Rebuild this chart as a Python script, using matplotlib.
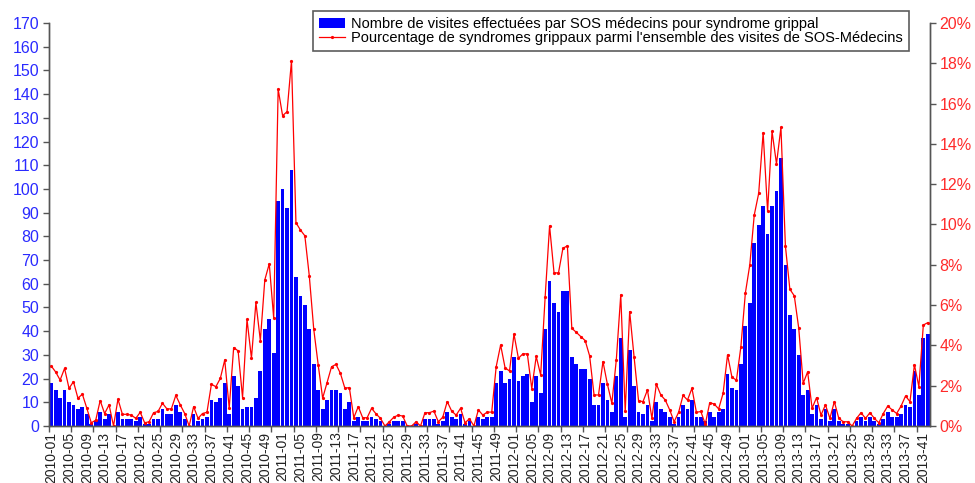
import matplotlib
matplotlib.use("Agg")
import matplotlib.pyplot as plt
from matplotlib.ticker import FuncFormatter

plt.rcParams['font.family'] = ['Liberation Sans', 'DejaVu Sans']

# weeks per year shown on the chart
years = [2010, 2011, 2012, 2013]
weeks_per_year = [52, 52, 52, 42]

# weekly number of visits for flu syndrome
visits = [
    # 2010
    18, 15, 12, 15, 10, 9, 7, 8, 5, 1, 2, 6, 3, 5, 0, 6, 3, 3, 3, 2,
    4, 1, 1, 3, 3, 7, 5, 5, 9, 6, 3, 0, 5, 2, 3, 4, 11, 10, 12, 18,
    5, 21, 17, 7, 8, 8, 12, 23, 41, 45, 31, 95,
    # 2011
    100, 92, 108, 63, 55, 51, 41, 26, 15, 7, 11, 15, 15, 14, 7, 10, 2, 4, 2, 2,
    4, 3, 2, 0, 1, 2, 2, 2, 0, 0, 1, 0, 3, 3, 3, 1, 2, 6, 4, 3,
    5, 1, 2, 0, 4, 3, 4, 4, 18, 23, 18, 20,
    # 2012
    29, 19, 21, 22, 10, 21, 14, 41, 61, 52, 48, 57, 57, 29, 26, 24, 24, 20, 9, 9,
    18, 11, 6, 21, 37, 4, 32, 17, 6, 5, 9, 2, 10, 7, 6, 4, 1, 4, 9, 7,
    11, 4, 4, 2, 6, 4, 6, 7, 22, 16, 15, 26,
    # 2013
    42, 52, 77, 85, 93, 81, 93, 99, 113, 68, 47, 41, 30, 13, 15, 5, 9, 3, 7, 2,
    7, 2, 1, 1, 0, 2, 4, 2, 4, 2, 1, 3, 6, 4, 4, 5, 9, 8, 23, 13,
    37, 39,
]

# weekly share of flu syndromes among all SOS-Médecins visits (%)
share = [
    # 2010
    2.98, 2.68, 2.28, 2.86, 1.87, 2.20, 1.38, 1.58, 0.88, 0.16, 0.29, 1.26, 0.62, 1.05, 0.0, 1.33, 0.58, 0.58, 0.54, 0.38,
    0.68, 0.16, 0.21, 0.66, 0.72, 1.13, 0.85, 0.85, 1.52, 1.05, 0.62, 0.0, 0.96, 0.38, 0.62, 0.68, 2.07, 1.95, 2.36, 3.28,
    0.88, 3.89, 3.73, 1.41, 5.29, 3.36, 6.13, 4.24, 7.25, 8.05, 5.35, 16.72,
    # 2011
    15.40, 15.60, 18.13, 10.09, 9.73, 9.44, 7.45, 4.80, 3.04, 1.38, 2.15, 2.94, 3.06, 2.61, 1.87, 1.91, 0.41, 0.96, 0.41, 0.41,
    0.88, 0.60, 0.38, 0.0, 0.21, 0.44, 0.54, 0.49, 0.0, 0.0, 0.21, 0.0, 0.66, 0.66, 0.74, 0.21, 0.44, 1.21, 0.74, 0.54,
    0.88, 0.16, 0.36, 0.0, 0.80, 0.54, 0.69, 0.69, 2.94, 4.02, 2.89, 2.73,
    # 2012
    4.56, 3.36, 3.58, 3.58, 1.86, 3.45, 2.53, 6.38, 9.93, 7.61, 7.59, 8.82, 8.94, 4.85, 4.65, 4.44, 4.24, 3.48, 1.54, 1.54,
    3.20, 2.07, 1.13, 3.28, 6.51, 0.72, 5.68, 3.41, 1.25, 1.21, 1.79, 0.38, 2.08, 1.54, 1.29, 0.80, 0.21, 0.68, 1.52, 1.29,
    1.87, 0.68, 0.72, 0.09, 1.16, 1.09, 0.85, 1.62, 3.53, 2.41, 2.28, 3.94,
    # 2013
    6.59, 8.00, 10.47, 11.55, 14.56, 10.65, 14.62, 13.01, 14.82, 8.94, 6.79, 6.46, 4.85, 2.12, 2.69, 0.88, 1.41, 0.54, 1.05, 0.38,
    1.21, 0.38, 0.21, 0.21, 0.0, 0.38, 0.66, 0.38, 0.66, 0.38, 0.16, 0.62, 0.99, 0.80, 0.62, 0.99, 1.49, 1.21, 3.04, 1.95,
    5.01, 5.13,
]

# week labels like 2010-01
weeks = []
for y, n in zip(years, weeks_per_year):
    for w in range(1, n + 1):
        weeks.append(f"{y}-{w:02d}")

x = list(range(len(weeks)))

fig = plt.figure(figsize=(9.75, 4.83), dpi=100)
ax = fig.add_axes([49 / 975, 1 - 426 / 483, 881 / 975, 403 / 483])
ax2 = ax.twinx()

bars = ax.bar(x, visits, width=0.85, color='#0000ff', linewidth=0,
              label='Nombre de visites effectuées par SOS médecins pour syndrome grippal')
line, = ax2.plot(x, share, color='#ff0000', linewidth=0.9, marker='o', markersize=1.3,
                 label="Pourcentage de syndromes grippaux parmi l'ensemble des visites de SOS-Médecins")

ax.set_xlim(-0.5, len(weeks) - 0.5)
ax.set_ylim(0, 170)
ax2.set_ylim(0, 20)

ax.set_yticks(range(0, 171, 10))
ax2.set_yticks(range(0, 21, 2))
ax2.yaxis.set_major_formatter(FuncFormatter(lambda v, p: f"{int(v)}%"))

ax.tick_params(axis='y', colors='#555555', labelcolor='#2a2aff', labelsize=11.5, length=4, width=1, pad=3)
ax2.tick_params(axis='y', colors='#555555', labelcolor='#ff2a2a', labelsize=11.5, length=4, width=1, pad=3)

# labels every 4 weeks, tick marks every 5 weeks
ax.set_xticks(x[::4])
ax.set_xticklabels(weeks[::4], rotation=90, fontsize=10, color='#222222')
ax.set_xticks([i - 0.5 for i in range(0, len(weeks), 5)], minor=True)
ax.tick_params(axis='x', which='major', length=0, pad=4)
ax.tick_params(axis='x', which='minor', length=4, width=1, color='#555555')

for a in (ax, ax2):
    a.spines['top'].set_visible(False)
    for s in ('left', 'right', 'bottom'):
        a.spines[s].set_color('#555555')
        a.spines[s].set_linewidth(1)

leg = fig.legend(handles=[bars, line], loc='upper left',
                 bbox_to_anchor=(313 / 975, 1 - 11 / 483), fontsize=10.5,
                 frameon=True, fancybox=False, shadow=False, borderpad=0.4,
                 labelspacing=0.0, handlelength=1.8, handletextpad=0.4,
                 borderaxespad=0)
leg.get_frame().set_edgecolor('#333333')
leg.get_frame().set_linewidth(1.2)

fig.savefig('out.png', dpi=100)
